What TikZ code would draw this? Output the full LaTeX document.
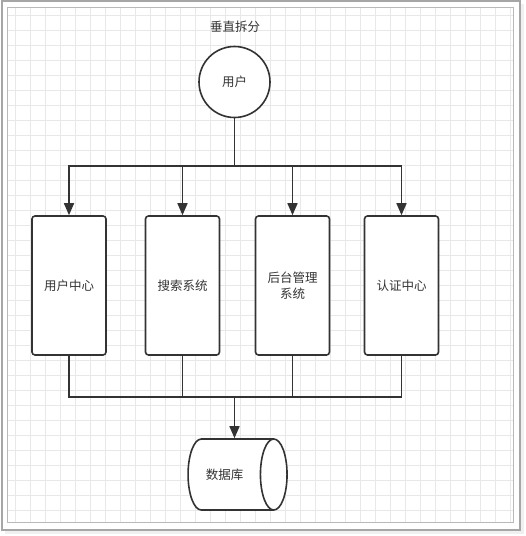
\documentclass[tikz,border=0pt]{standalone}
\usepackage{fontspec}
\newfontfamily\cjk{Noto Sans CJK SC}
\usetikzlibrary{shapes.geometric,arrows.meta}
\begin{document}
\begin{tikzpicture}[>={Triangle[length=12pt,width=10pt]},x=1pt,y=-1pt,
	every node/.style={font=\cjk\fontsize{12.5}{16}\selectfont,text=black!80},
	line/.style={draw=black!80,line width=1.6pt},
	svc/.style={line,rounded corners=3pt,fill=white,minimum width=74pt,minimum height=139pt,align=center,inner sep=0pt}]
		\useasboundingbox (0,0) rectangle (526,536);
		% frame and grid
		\fill[gray!12] (5,4) rectangle (524,534);
		\draw[gray!70,line width=1.4pt,fill=white] (2,1) rectangle (520,530);
		\draw[gray!18,line width=0.8pt] (7,7) grid[step=15pt] (513,522);
		\draw[gray!55,line width=0.9pt] (7,7) rectangle (513,522);
		\node (title) at (235,27) {垂直拆分};
		\node[circle,line,minimum size=71pt,inner sep=0pt,fill=white] (user) at (234.5,82) {用户};
		\node[svc] (b1) at (69,285.5) {用户中心};
		\node[svc] (b2) at (182.5,285.5) {搜索系统};
		\node[svc] (b3) at (292.5,285.5) {后台管理\\系统};
		\node[svc] (b4) at (401.5,285.5) {认证中心};
		\node[cylinder,line,fill=white,minimum height=99pt,minimum width=71pt,aspect=2.3,inner sep=0pt] (db) at (230.5,474.5) {\hspace*{-12pt}数据库};
		\coordinate (top) at (234.5,166);
		\coordinate (bot) at (234.5,397);
		\draw[line] (user) -- (top);
		\foreach \b in {b1,b2,b3,b4} {
			\draw[line,->] (top) -| (\b);
			\draw[line] (\b) |- (bot);
		}
		\draw[line,->] (bot) -- (bot |- db.north);
\end{tikzpicture}
\end{document}
